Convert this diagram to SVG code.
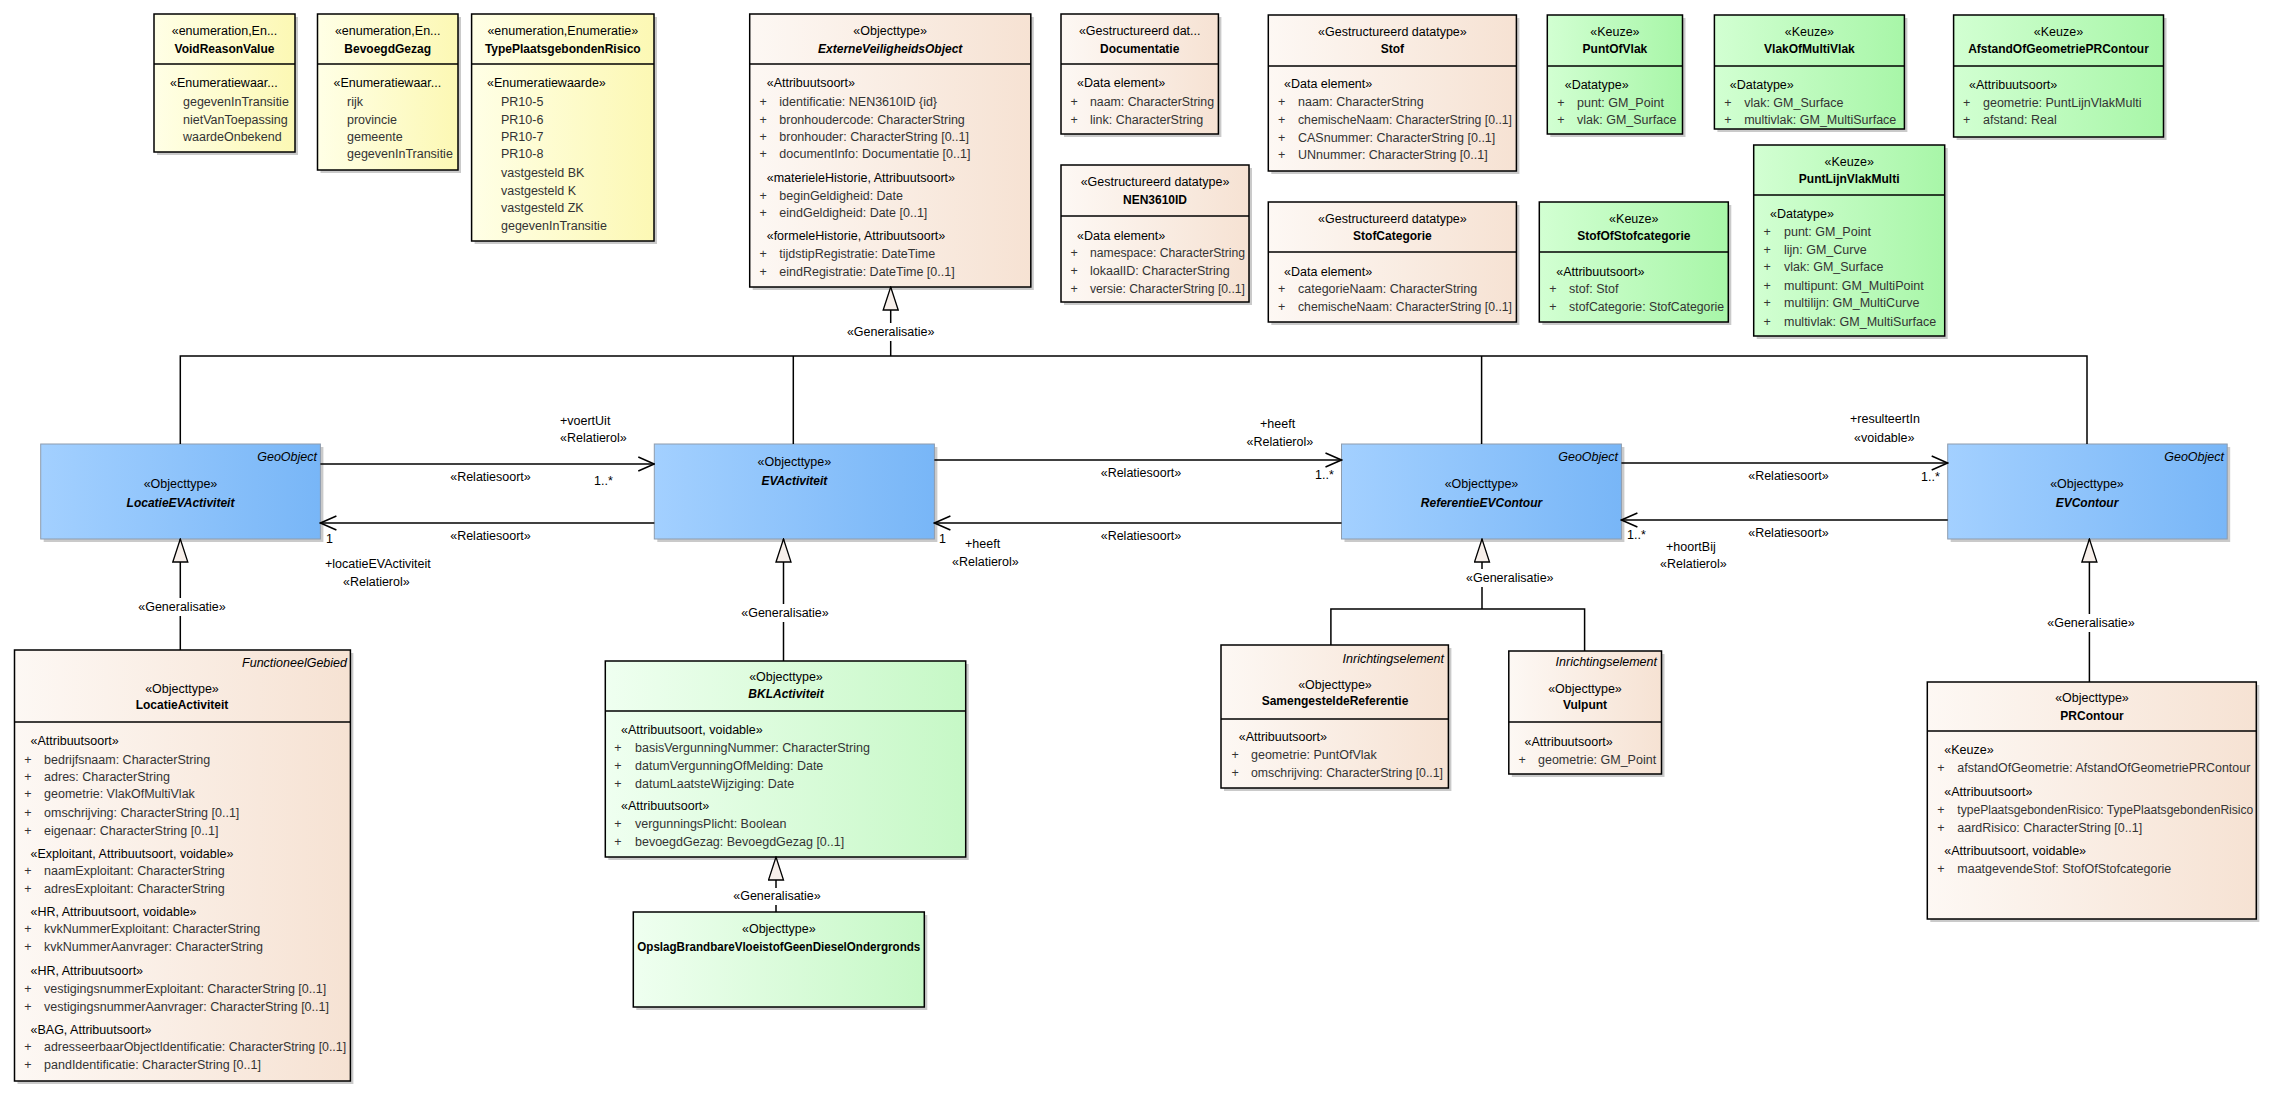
<svg xmlns="http://www.w3.org/2000/svg" width="2280" height="1098" viewBox="0 0 2280 1098">
<style>
text{font-family:"Liberation Sans",Arial,Helvetica,sans-serif;font-size:12.5px;fill:#000}
.m{fill:#333}
.n{font-weight:bold;font-size:12px}
.ni{font-weight:bold;font-style:italic;font-size:12px}
.i{font-style:italic}
.c{text-anchor:middle}
.r{text-anchor:end}
.bx{stroke:#000;stroke-width:1.5}
.bb{stroke:#8e9cad;stroke-width:1}
.sh{fill:#cacaca}
.dv{stroke:#000;stroke-width:1.5}
.ln{fill:none;stroke:#000;stroke-width:1.5}
</style>
<defs>
<linearGradient id="gY" x1="0" y1="0" x2="1" y2="0"><stop offset="0" stop-color="#ffffe6"/><stop offset="1" stop-color="#fcf8b4"/></linearGradient>
<linearGradient id="gB" x1="0" y1="0" x2="1" y2="0"><stop offset="0" stop-color="#fdf8f4"/><stop offset="1" stop-color="#f6e2d3"/></linearGradient>
<linearGradient id="gG" x1="0" y1="0" x2="1" y2="0"><stop offset="0" stop-color="#d2ffd2"/><stop offset="1" stop-color="#a8f6a8"/></linearGradient>
<linearGradient id="gL" x1="0" y1="0" x2="1" y2="0"><stop offset="0" stop-color="#effff0"/><stop offset="1" stop-color="#c6f8c6"/></linearGradient>
<linearGradient id="gBl" x1="0" y1="0" x2="1" y2="0"><stop offset="0" stop-color="#a3d0ff"/><stop offset="1" stop-color="#78b6f7"/></linearGradient>
<marker id="arr" viewBox="0 0 18 16" markerWidth="18" markerHeight="16" refX="17" refY="8" orient="auto" markerUnits="userSpaceOnUse"><path d="M1,1 L17,8 L1,15" fill="none" stroke="#000" stroke-width="1.5"/></marker>
<marker id="tri" viewBox="0 0 25 17" markerWidth="25" markerHeight="17" refX="24" refY="8.5" orient="auto" markerUnits="userSpaceOnUse"><path d="M1,1 L24,8.5 L1,16 Z" fill="#f7efea" stroke="#000" stroke-width="1.3"/></marker>
</defs>
<rect x="0" y="0" width="2280" height="1098" fill="#fff"/>

<g id="VoidReasonValue">
<rect class="sh" x="157" y="17" width="141" height="138"/>
<rect class="bx" x="154" y="14" width="141" height="138" fill="url(#gY)"/>
<line class="dv" x1="154" y1="64" x2="295" y2="64"/>
<text class="c" x="224.5" y="35">«enumeration,En...</text>
<text class="n c" x="224.5" y="53">VoidReasonValue</text>
<text x="170" y="87">«Enumeratiewaar...</text>
<text class="m" x="183" y="106">gegevenInTransitie</text>
<text class="m" x="183" y="124">nietVanToepassing</text>
<text class="m" x="183" y="141">waardeOnbekend</text>
</g>

<g id="BevoegdGezag">
<rect class="sh" x="320.5" y="17" width="140.5" height="156"/>
<rect class="bx" x="317.5" y="14" width="140.5" height="156" fill="url(#gY)"/>
<line class="dv" x1="317.5" y1="64" x2="458" y2="64"/>
<text class="c" x="387.7" y="35">«enumeration,En...</text>
<text class="n c" x="387.7" y="53">BevoegdGezag</text>
<text x="333.5" y="87">«Enumeratiewaar...</text>
<text class="m" x="347" y="106">rijk</text>
<text class="m" x="347" y="124">provincie</text>
<text class="m" x="347" y="141">gemeente</text>
<text class="m" x="347" y="158">gegevenInTransitie</text>
</g>

<g id="TypePlaatsgebondenRisico">
<rect class="sh" x="474.6" y="17" width="182.4" height="227"/>
<rect class="bx" x="471.6" y="14" width="182.4" height="227" fill="url(#gY)"/>
<line class="dv" x1="471.6" y1="64" x2="654" y2="64"/>
<text class="c" x="562.8" y="35">«enumeration,Enumeratie»</text>
<text class="n c" x="562.8" y="53">TypePlaatsgebondenRisico</text>
<text x="487" y="87">«Enumeratiewaarde»</text>
<text class="m" x="501" y="106">PR10-5</text>
<text class="m" x="501" y="124">PR10-6</text>
<text class="m" x="501" y="141">PR10-7</text>
<text class="m" x="501" y="158">PR10-8</text>
<text class="m" x="501" y="177">vastgesteld BK</text>
<text class="m" x="501" y="195">vastgesteld K</text>
<text class="m" x="501" y="212">vastgesteld ZK</text>
<text class="m" x="501" y="230">gegevenInTransitie</text>
</g>

<g id="ExterneVeiligheidsObject">
<rect class="sh" x="752.7" y="17" width="281.1" height="273"/>
<rect class="bx" x="749.7" y="14" width="281.1" height="273" fill="url(#gB)"/>
<line class="dv" x1="749.7" y1="64" x2="1030.8" y2="64"/>
<text class="c" x="890.2" y="35">«Objecttype»</text>
<text class="ni c" x="890.2" y="53">ExterneVeiligheidsObject</text>
<text x="766.7" y="87">«Attribuutsoort»</text>
<text class="m" x="759.4" y="106">+</text><text class="m" x="779.3" y="106">identificatie: NEN3610ID {id}</text>
<text class="m" x="759.4" y="124">+</text><text class="m" x="779.3" y="124">bronhoudercode: CharacterString</text>
<text class="m" x="759.4" y="141">+</text><text class="m" x="779.3" y="141">bronhouder: CharacterString [0..1]</text>
<text class="m" x="759.4" y="158">+</text><text class="m" x="779.3" y="158">documentInfo: Documentatie [0..1]</text>
<text x="766.7" y="182">«materieleHistorie, Attribuutsoort»</text>
<text class="m" x="759.4" y="200">+</text><text class="m" x="779.3" y="200">beginGeldigheid: Date</text>
<text class="m" x="759.4" y="217">+</text><text class="m" x="779.3" y="217">eindGeldigheid: Date [0..1]</text>
<text x="766.7" y="240">«formeleHistorie, Attribuutsoort»</text>
<text class="m" x="759.4" y="258">+</text><text class="m" x="779.3" y="258">tijdstipRegistratie: DateTime</text>
<text class="m" x="759.4" y="276">+</text><text class="m" x="779.3" y="276">eindRegistratie: DateTime [0..1]</text>
</g>

<g id="Documentatie">
<rect class="sh" x="1064" y="17" width="157.4" height="120"/>
<rect class="bx" x="1061" y="14" width="157.4" height="120" fill="url(#gB)"/>
<line class="dv" x1="1061" y1="64" x2="1218.4" y2="64"/>
<text class="c" x="1139.7" y="35">«Gestructureerd dat...</text>
<text class="n c" x="1139.7" y="53">Documentatie</text>
<text x="1077" y="87">«Data element»</text>
<text class="m" x="1070.6" y="106">+</text><text class="m" x="1090" y="106" textLength="124" lengthAdjust="spacingAndGlyphs">naam: CharacterString</text>
<text class="m" x="1070.6" y="124">+</text><text class="m" x="1090" y="124">link: CharacterString</text>
</g>

<g id="NEN3610ID">
<rect class="sh" x="1064" y="168" width="188" height="137"/>
<rect class="bx" x="1061" y="165" width="188" height="137" fill="url(#gB)"/>
<line class="dv" x1="1061" y1="216" x2="1249" y2="216"/>
<text class="c" x="1155" y="186">«Gestructureerd datatype»</text>
<text class="n c" x="1155" y="204">NEN3610ID</text>
<text x="1077" y="240">«Data element»</text>
<text class="m" x="1070.6" y="257">+</text><text class="m" x="1090" y="257" textLength="155" lengthAdjust="spacingAndGlyphs">namespace: CharacterString</text>
<text class="m" x="1070.6" y="275">+</text><text class="m" x="1090" y="275">lokaalID: CharacterString</text>
<text class="m" x="1070.6" y="293">+</text><text class="m" x="1090" y="293" textLength="155" lengthAdjust="spacingAndGlyphs">versie: CharacterString [0..1]</text>
</g>

<g id="Stof">
<rect class="sh" x="1271.3" y="18" width="248.1" height="156"/>
<rect class="bx" x="1268.3" y="15" width="248.1" height="156" fill="url(#gB)"/>
<line class="dv" x1="1268.3" y1="66" x2="1516.4" y2="66"/>
<text class="c" x="1392.4" y="36">«Gestructureerd datatype»</text>
<text class="n c" x="1392.4" y="53">Stof</text>
<text x="1284" y="88">«Data element»</text>
<text class="m" x="1278" y="106">+</text><text class="m" x="1298" y="106">naam: CharacterString</text>
<text class="m" x="1278" y="124">+</text><text class="m" x="1298" y="124" textLength="214" lengthAdjust="spacingAndGlyphs">chemischeNaam: CharacterString [0..1]</text>
<text class="m" x="1278" y="142">+</text><text class="m" x="1298" y="142">CASnummer: CharacterString [0..1]</text>
<text class="m" x="1278" y="159">+</text><text class="m" x="1298" y="159">UNnummer: CharacterString [0..1]</text>
</g>

<g id="StofCategorie">
<rect class="sh" x="1271.3" y="205" width="248.1" height="120"/>
<rect class="bx" x="1268.3" y="202" width="248.1" height="120" fill="url(#gB)"/>
<line class="dv" x1="1268.3" y1="252" x2="1516.4" y2="252"/>
<text class="c" x="1392.4" y="223">«Gestructureerd datatype»</text>
<text class="n c" x="1392.4" y="240">StofCategorie</text>
<text x="1284" y="276">«Data element»</text>
<text class="m" x="1278" y="293">+</text><text class="m" x="1298" y="293">categorieNaam: CharacterString</text>
<text class="m" x="1278" y="311">+</text><text class="m" x="1298" y="311" textLength="214" lengthAdjust="spacingAndGlyphs">chemischeNaam: CharacterString [0..1]</text>
</g>

<g id="PuntOfVlak">
<rect class="sh" x="1550.3" y="18" width="135.2" height="119"/>
<rect class="bx" x="1547.3" y="15" width="135.2" height="119" fill="url(#gG)"/>
<line class="dv" x1="1547.3" y1="66" x2="1682.5" y2="66"/>
<text class="c" x="1614.9" y="36">«Keuze»</text>
<text class="n c" x="1614.9" y="53">PuntOfVlak</text>
<text x="1564.7" y="89">«Datatype»</text>
<text class="m" x="1557.2" y="107">+</text><text class="m" x="1577" y="107">punt: GM_Point</text>
<text class="m" x="1557.2" y="124">+</text><text class="m" x="1577" y="124">vlak: GM_Surface</text>
</g>

<g id="VlakOfMultiVlak">
<rect class="sh" x="1717.4" y="18" width="190" height="114"/>
<rect class="bx" x="1714.4" y="15" width="190" height="114" fill="url(#gG)"/>
<line class="dv" x1="1714.4" y1="66" x2="1904.4" y2="66"/>
<text class="c" x="1809.4" y="36">«Keuze»</text>
<text class="n c" x="1809.4" y="53">VlakOfMultiVlak</text>
<text x="1729.8" y="89">«Datatype»</text>
<text class="m" x="1724.3" y="107">+</text><text class="m" x="1744.2" y="107">vlak: GM_Surface</text>
<text class="m" x="1724.3" y="124">+</text><text class="m" x="1744.2" y="124">multivlak: GM_MultiSurface</text>
</g>

<g id="AfstandOfGeometriePRContour">
<rect class="sh" x="1956.6" y="18" width="209.9" height="122"/>
<rect class="bx" x="1953.6" y="15" width="209.9" height="122" fill="url(#gG)"/>
<line class="dv" x1="1953.6" y1="66" x2="2163.5" y2="66"/>
<text class="c" x="2058.5" y="36">«Keuze»</text>
<text class="n c" x="2058.5" y="53">AfstandOfGeometriePRContour</text>
<text x="1969" y="89">«Attribuutsoort»</text>
<text class="m" x="1963" y="107">+</text><text class="m" x="1983" y="107">geometrie: PuntLijnVlakMulti</text>
<text class="m" x="1963" y="124">+</text><text class="m" x="1983" y="124">afstand: Real</text>
</g>

<g id="PuntLijnVlakMulti">
<rect class="sh" x="1756.7" y="148" width="191" height="191"/>
<rect class="bx" x="1753.7" y="145" width="191" height="191" fill="url(#gG)"/>
<line class="dv" x1="1753.7" y1="195" x2="1944.7" y2="195"/>
<text class="c" x="1849.2" y="166">«Keuze»</text>
<text class="n c" x="1849.2" y="183">PuntLijnVlakMulti</text>
<text x="1770" y="218">«Datatype»</text>
<text class="m" x="1763.6" y="236">+</text><text class="m" x="1784" y="236">punt: GM_Point</text>
<text class="m" x="1763.6" y="254">+</text><text class="m" x="1784" y="254">lijn: GM_Curve</text>
<text class="m" x="1763.6" y="271">+</text><text class="m" x="1784" y="271">vlak: GM_Surface</text>
<text class="m" x="1763.6" y="290">+</text><text class="m" x="1784" y="290">multipunt: GM_MultiPoint</text>
<text class="m" x="1763.6" y="307">+</text><text class="m" x="1784" y="307">multilijn: GM_MultiCurve</text>
<text class="m" x="1763.6" y="326">+</text><text class="m" x="1784" y="326">multivlak: GM_MultiSurface</text>
</g>

<g id="StofOfStofcategorie">
<rect class="sh" x="1542.3" y="205" width="189" height="120"/>
<rect class="bx" x="1539.3" y="202" width="189" height="120" fill="url(#gG)"/>
<line class="dv" x1="1539.3" y1="252" x2="1728.3" y2="252"/>
<text class="c" x="1633.8" y="223">«Keuze»</text>
<text class="n c" x="1633.8" y="240">StofOfStofcategorie</text>
<text x="1556.2" y="276">«Attribuutsoort»</text>
<text class="m" x="1549.2" y="293">+</text><text class="m" x="1569.1" y="293">stof: Stof</text>
<text class="m" x="1549.2" y="311">+</text><text class="m" x="1569.1" y="311" textLength="155" lengthAdjust="spacingAndGlyphs">stofCategorie: StofCategorie</text>
</g>

<g id="LocatieEVActiviteit">
<rect class="sh" x="43.7" y="447" width="279.7" height="95"/>
<rect class="bb" x="40.7" y="444" width="279.7" height="95" fill="url(#gBl)"/>
<text class="i r" x="317" y="461">GeoObject</text>
<text class="c" x="180.5" y="488">«Objecttype»</text>
<text class="ni c" x="180.5" y="507">LocatieEVActiviteit</text>
</g>

<g id="EVActiviteit">
<rect class="sh" x="657.3" y="447" width="280.1" height="95"/>
<rect class="bb" x="654.3" y="444" width="280.1" height="95" fill="url(#gBl)"/>
<text class="c" x="794.4" y="466">«Objecttype»</text>
<text class="ni c" x="794.4" y="485">EVActiviteit</text>
</g>

<g id="ReferentieEVContour">
<rect class="sh" x="1344.5" y="447" width="279.9" height="95"/>
<rect class="bb" x="1341.5" y="444" width="279.9" height="95" fill="url(#gBl)"/>
<text class="i r" x="1618" y="461">GeoObject</text>
<text class="c" x="1481.5" y="488">«Objecttype»</text>
<text class="ni c" x="1481.5" y="507">ReferentieEVContour</text>
</g>

<g id="EVContour">
<rect class="sh" x="1950.7" y="447" width="279.5" height="95"/>
<rect class="bb" x="1947.7" y="444" width="279.5" height="95" fill="url(#gBl)"/>
<text class="i r" x="2224" y="461">GeoObject</text>
<text class="c" x="2087" y="488">«Objecttype»</text>
<text class="ni c" x="2087" y="507">EVContour</text>
</g>

<g id="LocatieActiviteit">
<rect class="sh" x="17.5" y="653" width="335.9" height="431"/>
<rect class="bx" x="14.5" y="650" width="335.9" height="431" fill="url(#gB)"/>
<line class="dv" x1="14.5" y1="722" x2="350.4" y2="722"/>
<text class="i r" x="347" y="667">FunctioneelGebied</text>
<text class="c" x="182" y="693">«Objecttype»</text>
<text class="n c" x="182" y="709">LocatieActiviteit</text>
<text x="30.5" y="745">«Attribuutsoort»</text>
<text class="m" x="24.2" y="764">+</text><text class="m" x="44.1" y="764">bedrijfsnaam: CharacterString</text>
<text class="m" x="24.2" y="781">+</text><text class="m" x="44.1" y="781">adres: CharacterString</text>
<text class="m" x="24.2" y="798">+</text><text class="m" x="44.1" y="798">geometrie: VlakOfMultiVlak</text>
<text class="m" x="24.2" y="817">+</text><text class="m" x="44.1" y="817">omschrijving: CharacterString [0..1]</text>
<text class="m" x="24.2" y="835">+</text><text class="m" x="44.1" y="835">eigenaar: CharacterString [0..1]</text>
<text x="30.5" y="858">«Exploitant, Attribuutsoort, voidable»</text>
<text class="m" x="24.2" y="875">+</text><text class="m" x="44.1" y="875">naamExploitant: CharacterString</text>
<text class="m" x="24.2" y="893">+</text><text class="m" x="44.1" y="893">adresExploitant: CharacterString</text>
<text x="30.5" y="916">«HR, Attribuutsoort, voidable»</text>
<text class="m" x="24.2" y="933">+</text><text class="m" x="44.1" y="933">kvkNummerExploitant: CharacterString</text>
<text class="m" x="24.2" y="951">+</text><text class="m" x="44.1" y="951">kvkNummerAanvrager: CharacterString</text>
<text x="30.5" y="975">«HR, Attribuutsoort»</text>
<text class="m" x="24.2" y="993">+</text><text class="m" x="44.1" y="993">vestigingsnummerExploitant: CharacterString [0..1]</text>
<text class="m" x="24.2" y="1011">+</text><text class="m" x="44.1" y="1011">vestigingsnummerAanvrager: CharacterString [0..1]</text>
<text x="30.5" y="1034">«BAG, Attribuutsoort»</text>
<text class="m" x="24.2" y="1051">+</text><text class="m" x="44.1" y="1051" textLength="302" lengthAdjust="spacingAndGlyphs">adresseerbaarObjectIdentificatie: CharacterString [0..1]</text>
<text class="m" x="24.2" y="1069">+</text><text class="m" x="44.1" y="1069">pandIdentificatie: CharacterString [0..1]</text>
</g>

<g id="BKLActiviteit">
<rect class="sh" x="608.3" y="664" width="360.4" height="196"/>
<rect class="bx" x="605.3" y="661" width="360.4" height="196" fill="url(#gL)"/>
<line class="dv" x1="605.3" y1="711" x2="965.7" y2="711"/>
<text class="c" x="786" y="681">«Objecttype»</text>
<text class="ni c" x="786" y="698">BKLActiviteit</text>
<text x="621" y="734">«Attribuutsoort, voidable»</text>
<text class="m" x="614.3" y="752">+</text><text class="m" x="635" y="752">basisVergunningNummer: CharacterString</text>
<text class="m" x="614.3" y="770">+</text><text class="m" x="635" y="770">datumVergunningOfMelding: Date</text>
<text class="m" x="614.3" y="788">+</text><text class="m" x="635" y="788">datumLaatsteWijziging: Date</text>
<text x="621" y="810">«Attribuutsoort»</text>
<text class="m" x="614.3" y="828">+</text><text class="m" x="635" y="828">vergunningsPlicht: Boolean</text>
<text class="m" x="614.3" y="846">+</text><text class="m" x="635" y="846">bevoegdGezag: BevoegdGezag [0..1]</text>
</g>

<g id="OpslagBrandbareVloeistofGeenDieselOndergronds">
<rect class="sh" x="636.3" y="915" width="291" height="95"/>
<rect class="bx" x="633.3" y="912" width="291" height="95" fill="url(#gL)"/>
<text class="c" x="778.8" y="933">«Objecttype»</text>
<text class="n c" x="778.8" y="951" textLength="283" lengthAdjust="spacingAndGlyphs">OpslagBrandbareVloeistofGeenDieselOndergronds</text>
</g>

<g id="SamengesteldeReferentie">
<rect class="sh" x="1224" y="648" width="227.4" height="143"/>
<rect class="bx" x="1221" y="645" width="227.4" height="143" fill="url(#gB)"/>
<line class="dv" x1="1221" y1="719" x2="1448.4" y2="719"/>
<text class="i r" x="1444" y="663">Inrichtingselement</text>
<text class="c" x="1335" y="689">«Objecttype»</text>
<text class="n c" x="1335" y="705">SamengesteldeReferentie</text>
<text x="1238.7" y="741">«Attribuutsoort»</text>
<text class="m" x="1231.4" y="759">+</text><text class="m" x="1251" y="759">geometrie: PuntOfVlak</text>
<text class="m" x="1231.4" y="777">+</text><text class="m" x="1251" y="777" textLength="192" lengthAdjust="spacingAndGlyphs">omschrijving: CharacterString [0..1]</text>
</g>

<g id="Vulpunt">
<rect class="sh" x="1511.8" y="654" width="152.7" height="123"/>
<rect class="bx" x="1508.8" y="651" width="152.7" height="123" fill="url(#gB)"/>
<line class="dv" x1="1508.8" y1="722" x2="1661.5" y2="722"/>
<text class="i r" x="1657" y="666">Inrichtingselement</text>
<text class="c" x="1585" y="693">«Objecttype»</text>
<text class="n c" x="1585" y="709">Vulpunt</text>
<text x="1524.5" y="746">«Attribuutsoort»</text>
<text class="m" x="1518.4" y="764">+</text><text class="m" x="1538" y="764">geometrie: GM_Point</text>
</g>

<g id="PRContour">
<rect class="sh" x="1930.3" y="685" width="329" height="237"/>
<rect class="bx" x="1927.3" y="682" width="329" height="237" fill="url(#gB)"/>
<line class="dv" x1="1927.3" y1="731" x2="2256.3" y2="731"/>
<text class="c" x="2092" y="702">«Objecttype»</text>
<text class="n c" x="2092" y="720">PRContour</text>
<text x="1944.3" y="754">«Keuze»</text>
<text class="m" x="1937.3" y="772">+</text><text class="m" x="1957.3" y="772" textLength="293" lengthAdjust="spacingAndGlyphs">afstandOfGeometrie: AfstandOfGeometriePRContour</text>
<text x="1944.3" y="796">«Attribuutsoort»</text>
<text class="m" x="1937.3" y="814">+</text><text class="m" x="1957.3" y="814" textLength="296" lengthAdjust="spacingAndGlyphs">typePlaatsgebondenRisico: TypePlaatsgebondenRisico</text>
<text class="m" x="1937.3" y="832">+</text><text class="m" x="1957.3" y="832">aardRisico: CharacterString [0..1]</text>
<text x="1944.3" y="855">«Attribuutsoort, voidable»</text>
<text class="m" x="1937.3" y="873">+</text><text class="m" x="1957.3" y="873">maatgevendeStof: StofOfStofcategorie</text>
</g>

<g id="connectors">
<path class="ln" d="M180.3,444 V356 H2087 V444"/>
<path class="ln" d="M793.3,356 V444"/>
<path class="ln" d="M1481.6,356 V444"/>
<path class="ln" d="M890.7,356 V341"/>
<path class="ln" d="M890.7,323 V287" marker-end="url(#tri)"/>
<text class="c" x="890.7" y="336">«Generalisatie»</text>

<path class="ln" d="M320.4,464 H654.3" marker-end="url(#arr)"/>
<text x="560" y="425">+voertUit</text>
<text x="560" y="442">«Relatierol»</text>
<text class="c" x="490.5" y="481">«Relatiesoort»</text>
<text x="594" y="485">1..*</text>
<path class="ln" d="M654.3,523 H320.4" marker-end="url(#arr)"/>
<text class="c" x="490.5" y="540">«Relatiesoort»</text>
<text x="326" y="543">1</text>
<text x="325" y="568">+locatieEVActiviteit</text>
<text x="343" y="586">«Relatierol»</text>

<path class="ln" d="M934.4,460 H1341.5" marker-end="url(#arr)"/>
<text x="1260" y="428">+heeft</text>
<text x="1246.5" y="446">«Relatierol»</text>
<text class="c" x="1141" y="477">«Relatiesoort»</text>
<text x="1315" y="479">1..*</text>
<path class="ln" d="M1341.5,523 H934.4" marker-end="url(#arr)"/>
<text class="c" x="1141" y="540">«Relatiesoort»</text>
<text x="939" y="543">1</text>
<text x="965" y="548">+heeft</text>
<text x="952" y="566">«Relatierol»</text>

<path class="ln" d="M1621.4,463 H1947.7" marker-end="url(#arr)"/>
<text x="1850" y="423">+resulteertIn</text>
<text x="1854" y="442">«voidable»</text>
<text class="c" x="1788.5" y="480">«Relatiesoort»</text>
<text x="1921" y="481">1..*</text>
<path class="ln" d="M1947.7,520 H1621.4" marker-end="url(#arr)"/>
<text class="c" x="1788.5" y="537">«Relatiesoort»</text>
<text x="1627" y="539">1..*</text>
<text x="1666" y="551">+hoortBij</text>
<text x="1660" y="568">«Relatierol»</text>

<path class="ln" d="M180.3,650 V616"/>
<path class="ln" d="M180.3,598 V539" marker-end="url(#tri)"/>
<text class="c" x="182" y="611">«Generalisatie»</text>

<path class="ln" d="M783.5,661 V622"/>
<path class="ln" d="M783.5,604 V539" marker-end="url(#tri)"/>
<text class="c" x="785" y="617">«Generalisatie»</text>

<path class="ln" d="M776,912 V905"/>
<path class="ln" d="M776,888 V857" marker-end="url(#tri)"/>
<text class="c" x="777" y="900">«Generalisatie»</text>

<path class="ln" d="M1330.9,645 V609 H1584.6 V651"/>
<path class="ln" d="M1482,609 V587"/>
<path class="ln" d="M1482,569 V539" marker-end="url(#tri)"/>
<text x="1466" y="582">«Generalisatie»</text>

<path class="ln" d="M2089.4,682 V632"/>
<path class="ln" d="M2089.4,614 V539" marker-end="url(#tri)"/>
<text class="c" x="2091" y="627">«Generalisatie»</text>
</g>
</svg>
